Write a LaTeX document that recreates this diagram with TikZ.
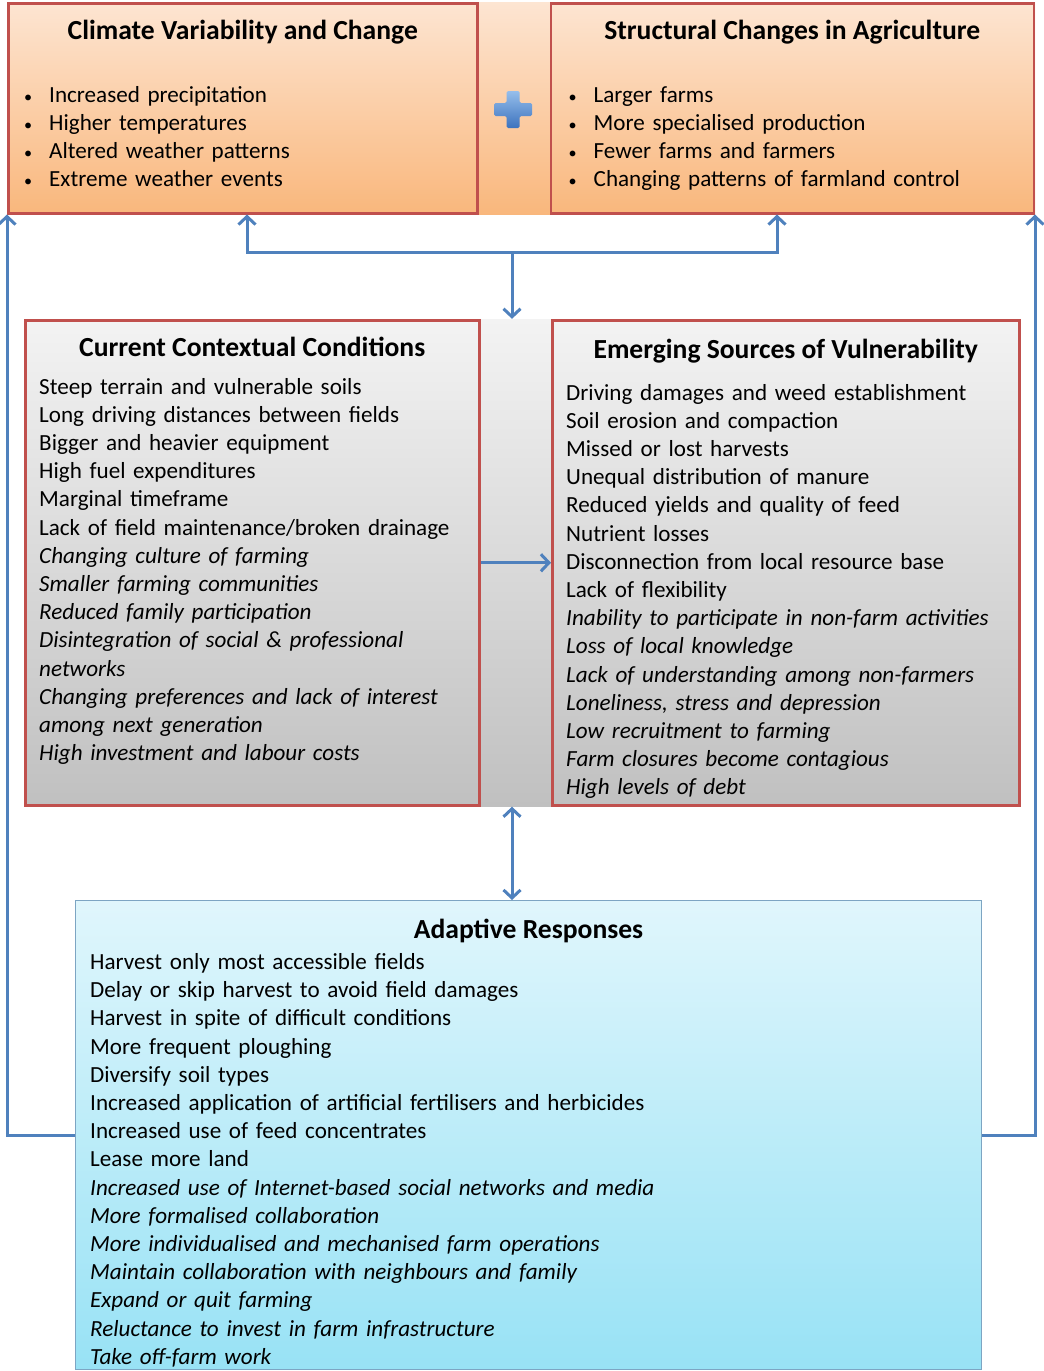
\documentclass[tikz,border=0pt]{standalone}
\usepackage{fontspec}
\setmainfont{Carlito}
\usetikzlibrary{positioning,fit,calc,arrows.meta,backgrounds}
\definecolor{boxred}{RGB}{192,80,77}
\definecolor{linkblue}{RGB}{79,129,189}
\definecolor{orangetop}{RGB}{253,229,210}
\definecolor{orangebot}{RGB}{249,183,124}
\definecolor{graytop}{RGB}{243,243,243}
\definecolor{graybot}{RGB}{192,192,192}
\definecolor{resptop}{RGB}{224,246,252}
\definecolor{respbot}{RGB}{152,226,245}
\definecolor{respline}{RGB}{125,165,195}
\definecolor{plustop}{RGB}{150,190,235}
\definecolor{plusbot}{RGB}{60,115,190}
\newcommand{\bodysize}{\fontsize{23.1}{28.2}\selectfont}
\newcommand{\titlesize}{\fontsize{27.6}{30}\selectfont\bfseries}
\newcommand{\bul}{\makebox[26pt][l]{\hspace{1pt}\scalebox{0.7}{\textbullet}}}

\begin{document}
\begin{tikzpicture}[x=1pt, y=-1pt,
        factornode/.style={rectangle, draw=boxred, line width=2.5pt, minimum height=210pt, inner sep=0pt},
        conditionnode/.style={rectangle, draw=boxred, line width=2.5pt, minimum height=485pt, inner sep=0pt},
        responsenode/.style={rectangle, draw=respline, line width=1pt, top color=resptop, bottom color=respbot, minimum width=906pt, minimum height=469pt, inner sep=0pt},
        titlenode/.style={anchor=base, inner sep=0pt, font=\titlesize},
        listnode/.style={anchor=base west, inner sep=0pt, align=left, text width=450pt, font=\bodysize},
        link/.style={draw=linkblue, line width=3pt},
        barb/.tip={Straight Barb[length=8pt, width=17pt]},
        ]
        \useasboundingbox (0,0) rectangle (1044,1371);

        %Nodes
        \node[factornode, minimum width=469pt, anchor=north west] (topL) at (7,2) {};
        \node[factornode, minimum width=483pt] (topR) [right=71pt of topL] {};
        \node[conditionnode, minimum width=454pt, anchor=north west] (midL) at (24,319) {};
        \node[conditionnode, minimum width=467pt] (midR) [right=70.5pt of midL] {};
        \node[responsenode, anchor=north west] (resp) at (75,900) {};

        \begin{scope}[on background layer]
            \node[fit=(topL)(topR), inner sep=0pt, top color=orangetop, bottom color=orangebot] (topband) {};
            \node[fit=(midL)(midR), inner sep=0pt, top color=graytop, bottom color=graybot] (midband) {};
        \end{scope}

        %Plus sign
        \shade[top color=plustop, bottom color=plusbot, rounded corners=1.5pt]
            (506.5,91) -- (519.5,91) -- (519.5,103) -- (532,103) -- (532,116) -- (519.5,116)
            -- (519.5,128) -- (506.5,128) -- (506.5,116) -- (494,116) -- (494,103) -- (506.5,103) -- cycle;

        %Titles
        \node[titlenode] (topLtitle) at ([yshift=-37pt]topL.north) {Climate Variability and Change};
        \node[titlenode] (topRtitle) at ([yshift=-37pt]topR.north) {Structural Changes in Agriculture};
        \node[titlenode] (midLtitle) at ([yshift=-37pt]midL.north) {Current Contextual Conditions};
        \node[titlenode] (midRtitle) at ([yshift=-39pt]midR.north) {Emerging Sources of Vulnerability};
        \node[titlenode] (resptitle) at ([yshift=-38pt]resp.north) {Adaptive Responses};

        %Lists
        \node[listnode] (topLlist) at ([xshift=16pt, yshift=-100pt]topL.north west) {%
            \bul Increased precipitation\\
            \bul Higher temperatures\\
            \bul Altered weather patterns\\
            \bul Extreme weather events};
        \node[listnode] (topRlist) at ([xshift=18pt, yshift=-100pt]topR.north west) {%
            \bul Larger farms\\
            \bul More specialised production\\
            \bul Fewer farms and farmers\\
            \bul Changing patterns of farmland control};
        \node[listnode] (midLlist) at ([xshift=15pt, yshift=-75pt]midL.north west) {%
            Steep terrain and vulnerable soils\\
            Long driving distances between fields\\
            Bigger and heavier equipment\\
            High fuel expenditures\\
            Marginal timeframe\\
            Lack of field maintenance/broken drainage\\
            \textit{Changing culture of farming}\\
            \textit{Smaller farming communities}\\
            \textit{Reduced family participation}\\
            \textit{Disintegration of social \& professional}\\
            \textit{networks}\\
            \textit{Changing preferences and lack of interest}\\
            \textit{among next generation}\\
            \textit{High investment and labour costs}};
        \node[listnode] (midRlist) at ([xshift=15pt, yshift=-81pt]midR.north west) {%
            Driving damages and weed establishment\\
            Soil erosion and compaction\\
            Missed or lost harvests\\
            Unequal distribution of manure\\
            Reduced yields and quality of feed\\
            Nutrient losses\\
            Disconnection from local resource base\\
            Lack of flexibility\\
            \textit{Inability to participate in non-farm activities}\\
            \textit{Loss of local knowledge}\\
            \textit{Lack of understanding among non-farmers}\\
            \textit{Loneliness, stress and depression}\\
            \textit{Low recruitment to farming}\\
            \textit{Farm closures become contagious}\\
            \textit{High levels of debt}};
        \node[listnode, text width=860pt] (resplist) at ([xshift=15pt, yshift=-69.5pt]resp.north west) {%
            Harvest only most accessible fields\\
            Delay or skip harvest to avoid field damages\\
            Harvest in spite of difficult conditions\\
            More frequent ploughing\\
            Diversify soil types\\
            Increased application of artificial fertilisers and herbicides\\
            Increased use of feed concentrates\\
            Lease more land\\
            \textit{Increased use of Internet-based social networks and media}\\
            \textit{More formalised collaboration}\\
            \textit{More individualised and mechanised farm operations}\\
            \textit{Maintain collaboration with neighbours and family}\\
            \textit{Expand or quit farming}\\
            \textit{Reluctance to invest in farm infrastructure}\\
            \textit{Take off-farm work}};

        %Connectors
        \coordinate (fork) at (512,252);
        \coordinate (forkL) at (247,252);
        \coordinate (forkR) at (777,252);
        \draw[link, barb-barb] (topL.south -| forkL) -- (forkL) -- (forkR) -- (topR.south -| forkR);
        \draw[link, -barb] (fork) -- (midband.north -| fork);
        \draw[link, -barb] (midL.east) -- (midR.west);
        \draw[link, barb-barb] (midband.south -| fork) -- (resp.north -| fork);
        \draw[link, -barb] (resp.west) -| (topL.south west);
        \draw[link, -barb] (resp.east) -| (topR.south east);
    \end{tikzpicture}
\end{document}
